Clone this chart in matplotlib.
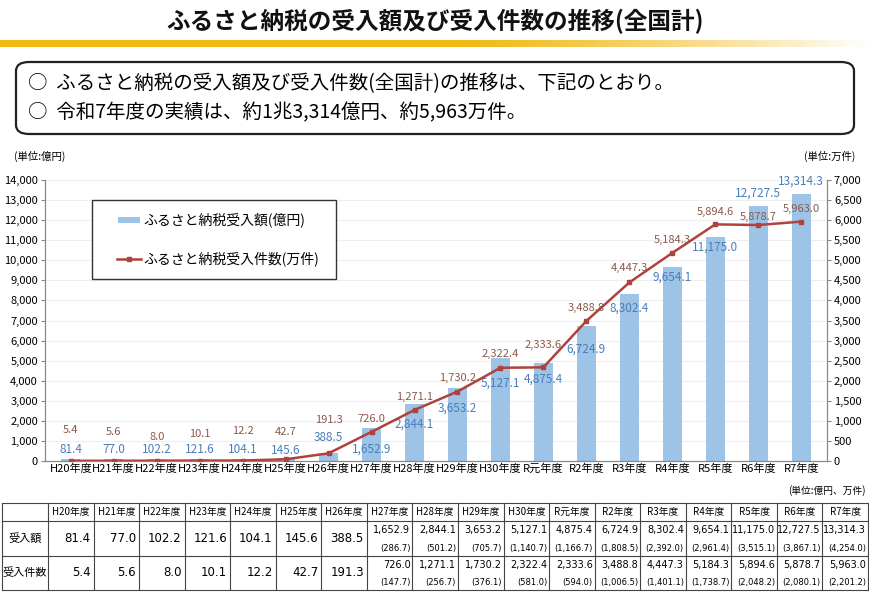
import matplotlib
matplotlib.use("Agg")
import matplotlib.pyplot as plt
import numpy as np
from matplotlib.patches import FancyBboxPatch, Rectangle
from matplotlib.lines import Line2D

plt.rcParams['font.family'] = ['Noto Sans CJK JP', 'DejaVu Sans']

years = ["H20年度","H21年度","H22年度","H23年度","H24年度","H25年度","H26年度","H27年度","H28年度",
         "H29年度","H30年度","R元年度","R2年度","R3年度","R4年度","R5年度","R6年度","R7年度"]
amount = [81.4,77.0,102.2,121.6,104.1,145.6,388.5,1652.9,2844.1,3653.2,5127.1,4875.4,6724.9,8302.4,
          9654.1,11175.0,12727.5,13314.3]
count = [5.4,5.6,8.0,10.1,12.2,42.7,191.3,726.0,1271.1,1730.2,2322.4,2333.6,3488.8,4447.3,5184.3,
         5894.6,5878.7,5963.0]
amount_sub = [None]*7 + ["(286.7)","(501.2)","(705.7)","(1,140.7)","(1,166.7)","(1,808.5)","(2,392.0)",
                         "(2,961.4)","(3,515.1)","(3,867.1)","(4,254.0)"]
count_sub = [None]*7 + ["(147.7)","(256.7)","(376.1)","(581.0)","(594.0)","(1,006.5)","(1,401.1)",
                        "(1,738.7)","(2,048.2)","(2,080.1)","(2,201.2)"]

# label offsets (pixels above the mark, style only)
bar_lab_off = [10,10,9,9,9,8,16,-21,-20,-20,-25,-16,-23,-14,-10,-10,12,13]
line_lab_off = [31,29,24,27,30,27,33,13,13,14,14,22,13,14,13,12,8,13]

W, H = 870, 596
fig = plt.figure(figsize=(W/100, H/100), dpi=100)

def fx(px): return px/W
def fy(py): return 1-py/H

# title
fig.text(0.5, fy(21), "ふるさと納税の受入額及び受入件数の推移(全国計)", ha='center', va='center',
         fontsize=17, fontweight='bold', color='#111')
gax = fig.add_axes([0, fy(47), 1, 7/H]); gax.axis('off')
grad = np.ones((1, 256, 4))
c = np.array([240/255, 185/255, 20/255])
t = np.linspace(0, 1, 256)
alpha = np.clip(1.4 - 1.4*t**2, 0, 1)
grad[0, :, :3] = c; grad[0, :, 3] = alpha
gax.imshow(grad, aspect='auto', extent=[0, 1, 0, 1])

box = FancyBboxPatch((fx(16), fy(134)), fx(838), (134-62)/H, boxstyle="round,pad=0,rounding_size=0.015",
                     transform=fig.transFigure, fill=False, ec='#222', lw=1.6)
fig.patches.append(box)
fig.text(fx(28), fy(84), "○  ふるさと納税の受入額及び受入件数(全国計)の推移は、下記のとおり。", fontsize=14, va='center')
fig.text(fx(28), fy(113), "○  令和7年度の実績は、約1兆3,314億円、約5,963万件。", fontsize=14, va='center')

# chart
ax = fig.add_axes([fx(45), fy(461), fx(827-45), (461-180)/H])
x = np.arange(len(years))
ax.bar(x, amount, width=0.45, color='#9dc3e6', zorder=2)
ax.set_ylim(0, 14000); ax.set_xlim(-0.6, len(years)-0.4)
ax.set_yticks(np.arange(0, 14001, 1000))
ax.set_yticklabels([f"{v:,}" for v in range(0, 14001, 1000)], fontsize=8)
ax.set_xticks(x); ax.set_xticklabels(years, fontsize=8)
ax.grid(axis='y', color='#eeeeee', lw=0.8, zorder=0)
ax2 = ax.twinx()
ax2.set_ylim(0, 7000)
ax2.set_yticks(np.arange(0, 7001, 500))
ax2.set_yticklabels([f"{v:,}" for v in range(0, 7001, 500)], fontsize=8)
ax2.plot(x, count, color='#b0413c', marker='s', ms=3.5, lw=1.8, zorder=3)
for a in (ax, ax2):
    a.tick_params(length=3, pad=2, color='#888')
    a.spines['top'].set_visible(False)
    for s in ['left', 'right', 'bottom']:
        a.spines[s].set_color('#888')
ax.tick_params(axis='x', length=0)
for i, v in enumerate(amount):
    ax.annotate(f"{v:,.1f}", (i, v), xytext=(0, bar_lab_off[i]*0.72), textcoords='offset points',
                ha='center', va='center', fontsize=8.5, color='#4a7ebb')
for i, v in enumerate(count):
    ax2.annotate(f"{v:,.1f}", (i, v), xytext=(0, line_lab_off[i]*0.72), textcoords='offset points',
                 ha='center', va='center', fontsize=8, color='#8b5a4a')
fig.text(fx(14), fy(156), "(単位:億円)", fontsize=7.5, va='center')
fig.text(fx(855), fy(156), "(単位:万件)", fontsize=7.5, va='center', ha='right')

# legend
lb = Rectangle((fx(92), fy(279)), fx(244), (279-200)/H, transform=fig.transFigure, fill=True, fc='white',
               ec='#333', lw=1, zorder=5)
fig.patches.append(lb)
fig.patches.append(Rectangle((fx(118), fy(223)), fx(22), 6/H, transform=fig.transFigure, fc='#9dc3e6',
                             ec='none', zorder=6))
fig.text(fx(143), fy(220), "ふるさと納税受入額(億円)", fontsize=10, va='center', zorder=7)
fig.lines.append(Line2D([fx(117), fx(141)], [fy(259)]*2, transform=fig.transFigure, color='#b0413c',
                        lw=1.8, zorder=6))
fig.lines.append(Line2D([fx(129)], [fy(259)], transform=fig.transFigure, color='#b0413c', marker='s',
                        ms=3.5, zorder=7))
fig.text(fx(143), fy(259), "ふるさと納税受入件数(万件)", fontsize=10, va='center', zorder=7)

# table
fig.text(fx(866), fy(491), "(単位:億円、万件)", fontsize=7, ha='right', va='center')
y0, y1, y2, y3 = 503, 521, 556, 590
c0 = 2; c1 = 48; c_end = 868
cw = (c_end - c1)/len(years)
lk = dict(transform=fig.transFigure, color='#444', lw=0.8)
for yy in (y0, y1, y2, y3):
    fig.lines.append(Line2D([fx(c0), fx(c_end)], [fy(yy)]*2, **lk))
for k in range(len(years)+1):
    xx = c1 + k*cw
    fig.lines.append(Line2D([fx(xx)]*2, [fy(y0), fy(y3)], **lk))
fig.lines.append(Line2D([fx(c0)]*2, [fy(y0), fy(y3)], **lk))
fig.text(fx(25), fy((y1+y2)/2), "受入額", fontsize=8, ha='center', va='center')
fig.text(fx(25), fy((y2+y3)/2), "受入件数", fontsize=8, ha='center', va='center')
nf = ['DejaVu Sans']
for i, yname in enumerate(years):
    xl = c1 + i*cw; xr = xl + cw
    fig.text(fx((xl+xr)/2), fy((y0+y1)/2), yname, fontsize=7, ha='center', va='center')
    for (val, sub, ya, yb) in ((amount[i], amount_sub[i], y1, y2), (count[i], count_sub[i], y2, y3)):
        s = f"{val:,.1f}"
        if sub is None:
            fig.text(fx(xr-3), fy((ya+yb)/2), s, fontsize=8.5, ha='right', va='center', family=nf)
        else:
            fig.text(fx(xr-2), fy(ya+9), s, fontsize=7, ha='right', va='center', family=nf)
            fig.text(fx(xr-2), fy(yb-8), sub, fontsize=6, ha='right', va='center', family=nf)

fig.savefig("out.png", dpi=100)
